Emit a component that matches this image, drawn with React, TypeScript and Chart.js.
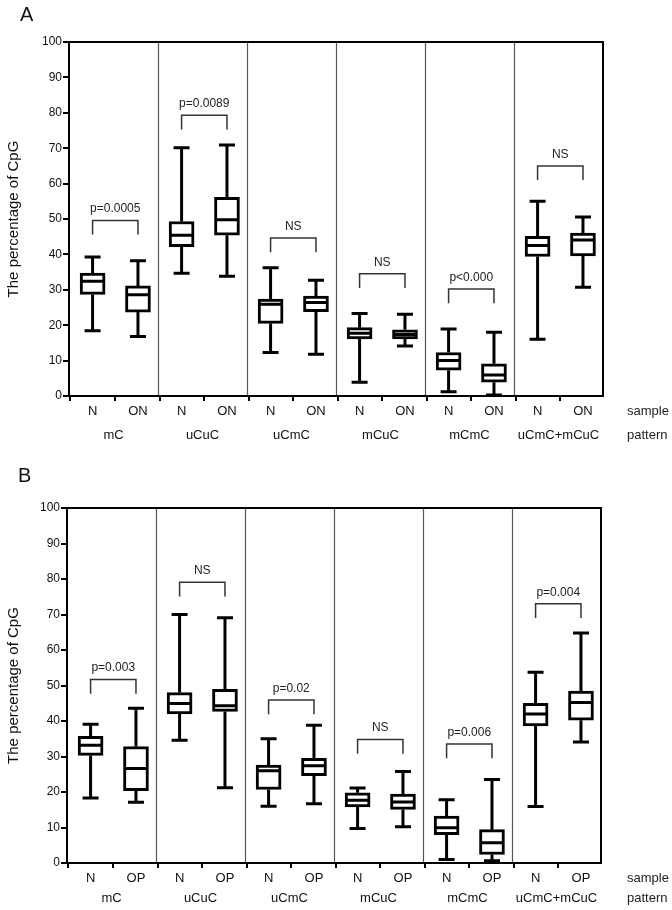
import React, { useEffect, useRef } from 'react';
import { Chart, registerables } from 'chart.js';

Chart.register(...registerables);

// ---------- data ----------
const groups = ['mC', 'uCuC', 'uCmC', 'mCuC', 'mCmC', 'uCmC+mCuC'];
const yTickValues = [0, 10, 20, 30, 40, 50, 60, 70, 80, 90, 100];

// each box: [min, q1, median, q3, max]
const aNormal = [
  [18.4, 28.7, 32.4, 34.7, 39.3],
  [34.7, 42.2, 45.4, 49.3, 70.1],
  [12.3, 20.5, 25.9, 27.4, 36.2],
  [3.9, 16.1, 17.7, 19.3, 23.3],
  [1.2, 7.3, 10.0, 12.3, 18.9],
  [16.0, 39.4, 42.5, 45.1, 55.0],
];
const aON = [
  [16.8, 23.7, 28.6, 31.1, 38.2],
  [33.8, 45.4, 49.8, 56.1, 70.9],
  [11.8, 23.8, 26.4, 28.2, 32.7],
  [14.1, 16.1, 17.4, 18.7, 23.1],
  [0.3, 3.9, 5.9, 9.1, 18.0],
  [30.7, 39.6, 44.1, 46.0, 50.6],
];
const aBracket = [49.6, 79.3, 44.6, 34.5, 30.2, 65.0];
const aPText = ['p=0.0005', 'p=0.0089', 'NS', 'NS', 'p<0.000', 'NS'];

const bNormal = [
  [18.3, 30.3, 33.2, 35.7, 39.1],
  [34.6, 42.0, 44.9, 48.0, 70.0],
  [16.0, 20.7, 26.0, 27.6, 35.0],
  [9.7, 15.8, 17.7, 19.8, 21.1],
  [1.0, 8.0, 9.9, 13.2, 17.8],
  [15.9, 38.6, 42.0, 45.0, 53.7],
];
const bOP = [
  [17.1, 20.4, 26.6, 32.8, 43.6],
  [21.2, 42.7, 44.3, 48.9, 69.1],
  [16.7, 24.6, 27.4, 29.5, 38.8],
  [10.2, 15.1, 17.2, 19.4, 25.8],
  [0.6, 2.4, 5.7, 9.4, 23.5],
  [34.1, 40.2, 45.2, 48.4, 64.8],
];
const bBracket = [51.7, 79.1, 45.9, 34.8, 33.5, 73.0];
const bPText = ['p=0.003', 'NS', 'p=0.02', 'NS', 'p=0.006', 'p=0.004'];

// ---------- styling ----------
const FONT = '"Liberation Sans", Arial, Helvetica, sans-serif';
const N_POS = 0.265;
const T_POS = 0.775;

// all vertical positions below are page coordinates
type Panel = {
  letter: string;
  sub: string;
  normal: number[][];
  tumor: number[][];
  bracket: number[];
  ptext: string[];
  canvasTop: number;
  canvasH: number;
  left: number;
  right: number;
  top: number;
  bottom: number;
  xAxisH: number;
  x2Pad: number;
  sampleY: number;
  patternY: number;
  letterX: number;
  letterY: number;
};

const panels: Panel[] = [
  {
    letter: 'A', sub: 'ON', normal: aNormal, tumor: aON, bracket: aBracket, ptext: aPText,
    canvasTop: 0, canvasH: 450, left: 69, right: 603, top: 42, bottom: 396,
    xAxisH: 22, x2Pad: 10, sampleY: 411.5, patternY: 435, letterX: 20, letterY: 21,
  },
  {
    letter: 'B', sub: 'OP', normal: bNormal, tumor: bOP, bracket: bBracket, ptext: bPText,
    canvasTop: 450, canvasH: 460, left: 67, right: 601, top: 508, bottom: 863,
    xAxisH: 22, x2Pad: 6, sampleY: 878, patternY: 898, letterX: 18, letterY: 482,
  },
];

function makePlugin(p: Panel) {
  return {
    id: 'boxExtras' + p.letter,
    beforeDatasetsDraw(chart: any) {
      const { ctx, chartArea } = chart;
      const xs = chart.scales.x;
      ctx.save();
      ctx.strokeStyle = '#555';
      ctx.lineWidth = 1.2;
      for (let i = 1; i < groups.length; i++) {
        const x = Math.round(xs.getPixelForValue(i)) + 0.5;
        ctx.beginPath();
        ctx.moveTo(x, chartArea.top);
        ctx.lineTo(x, chartArea.bottom);
        ctx.stroke();
      }
      ctx.restore();
    },
    afterDatasetsDraw(chart: any) {
      const { ctx } = chart;
      const xs = chart.scales.x;
      const ys = chart.scales.y;
      ctx.save();
      ctx.strokeStyle = '#000';
      ctx.lineWidth = 3;
      ctx.lineCap = 'butt';
      const series = [
        { boxes: p.normal, pos: N_POS },
        { boxes: p.tumor, pos: T_POS },
      ];
      series.forEach((s) => {
        s.boxes.forEach((b, i) => {
          const x = xs.getPixelForValue(i + s.pos);
          const [mn, q1, md, q3, mx] = b.map((v) => ys.getPixelForValue(v));
          ctx.beginPath();
          ctx.moveTo(x, mx);
          ctx.lineTo(x, q3);
          ctx.moveTo(x, q1);
          ctx.lineTo(x, mn);
          ctx.moveTo(x - 8, mx);
          ctx.lineTo(x + 8, mx);
          ctx.moveTo(x - 8, mn);
          ctx.lineTo(x + 8, mn);
          ctx.moveTo(x - 11, md);
          ctx.lineTo(x + 11, md);
          ctx.stroke();
        });
      });
      // significance brackets
      ctx.strokeStyle = '#333';
      ctx.lineWidth = 1.5;
      ctx.fillStyle = '#222';
      ctx.font = `12px ${FONT}`;
      ctx.textAlign = 'center';
      ctx.textBaseline = 'alphabetic';
      p.bracket.forEach((v, i) => {
        const xa = xs.getPixelForValue(i + N_POS);
        const xb = xs.getPixelForValue(i + T_POS);
        const y = ys.getPixelForValue(v);
        const yd = ys.getPixelForValue(v - 4);
        ctx.beginPath();
        ctx.moveTo(xa, yd);
        ctx.lineTo(xa, y);
        ctx.lineTo(xb, y);
        ctx.lineTo(xb, yd);
        ctx.stroke();
        ctx.fillText(p.ptext[i], (xa + xb) / 2, y - 8);
      });
      ctx.restore();
    },
    afterDraw(chart: any) {
      const { ctx, chartArea } = chart;
      ctx.save();
      ctx.strokeStyle = '#000';
      ctx.lineWidth = 2;
      ctx.strokeRect(chartArea.left, chartArea.top, chartArea.right - chartArea.left, chartArea.bottom - chartArea.top);
      ctx.fillStyle = '#222';
      ctx.font = `13px ${FONT}`;
      ctx.textAlign = 'left';
      ctx.textBaseline = 'middle';
      ctx.fillText('sample', 627, p.sampleY - p.canvasTop);
      ctx.fillText('pattern', 627, p.patternY - p.canvasTop);
      ctx.font = `20px ${FONT}`;
      ctx.textBaseline = 'alphabetic';
      ctx.fillStyle = '#111';
      ctx.fillText(p.letter, p.letterX, p.letterY - p.canvasTop);
      ctx.restore();
    },
  };
}

function buildConfig(p: Panel): any {
  const xPositions = groups.flatMap((_, i) => [i + N_POS, i + T_POS]);
  const top = p.top - p.canvasTop;
  const bottom = p.bottom - p.canvasTop;
  const x2H = p.canvasH - bottom - p.xAxisH - 2;
  const boxStyle = {
    backgroundColor: '#fff',
    borderColor: '#000',
    borderWidth: 3,
    borderSkipped: false,
    barThickness: 25,
    grouped: false,
  };
  return {
    type: 'bar',
    data: {
      datasets: [
        { label: 'N', data: p.normal.map((b, i) => ({ x: i + N_POS, y: [b[1], b[3]] })), ...boxStyle },
        { label: p.sub, data: p.tumor.map((b, i) => ({ x: i + T_POS, y: [b[1], b[3]] })), ...boxStyle },
      ],
    },
    options: {
      animation: false,
      responsive: false,
      maintainAspectRatio: false,
      layout: { padding: { left: 0, top, right: 672 - p.right, bottom: 2 } },
      plugins: { legend: { display: false }, tooltip: { enabled: false } },
      scales: {
        x: {
          type: 'linear', min: 0, max: 6, position: 'bottom', weight: 0, offset: false,
          afterBuildTicks: (s: any) => { s.ticks = xPositions.map((v) => ({ value: v })); },
          afterFit: (s: any) => { s.height = p.xAxisH; },
          ticks: {
            autoSkip: false, maxRotation: 0, minRotation: 0, padding: 3, color: '#111',
            font: { family: FONT, size: 13 },
            callback: (_v: any, i: number) => (i % 2 === 0 ? 'N' : p.sub),
          },
          grid: { drawOnChartArea: false, drawTicks: true, tickLength: 5, color: '#000', lineWidth: 2 },
          border: { display: false },
        },
        x2: {
          type: 'linear', min: 0, max: 6, position: 'bottom', weight: 1, offset: false,
          afterBuildTicks: (s: any) => { s.ticks = groups.map((_, i) => ({ value: i + 0.5 })); },
          afterFit: (s: any) => { s.height = x2H; },
          ticks: {
            autoSkip: false, maxRotation: 0, minRotation: 0, padding: p.x2Pad, color: '#111',
            font: { family: FONT, size: 13 },
            callback: (_v: any, i: number) => groups[i],
          },
          grid: { display: false, drawTicks: false, drawOnChartArea: false },
          border: { display: false },
        },
        y: {
          type: 'linear', min: 0, max: 100,
          afterBuildTicks: (s: any) => { s.ticks = yTickValues.map((v) => ({ value: v })); },
          afterFit: (s: any) => { s.width = p.left; },
          ticks: { padding: 1, color: '#111', font: { family: FONT, size: 12 } },
          grid: { drawOnChartArea: false, drawTicks: true, tickLength: 6, color: '#000', lineWidth: 2 },
          border: { display: false },
          title: {
            display: true, text: 'The percentage of CpG', color: '#111',
            font: { family: FONT, size: 15 }, padding: { top: 5, bottom: 4 },
          },
        },
      },
    },
    plugins: [makePlugin(p)],
  };
}

function PanelChart({ p }: { p: Panel }) {
  const ref = useRef<HTMLCanvasElement | null>(null);
  useEffect(() => {
    if (!ref.current) return;
    const chart = new Chart(ref.current, buildConfig(p));
    return () => chart.destroy();
  }, [p]);
  return (
    <canvas
      ref={ref}
      width={672}
      height={p.canvasH}
      style={{ position: 'absolute', left: 0, top: p.canvasTop, width: 672, height: p.canvasH }}
    />
  );
}

export default function App() {
  return (
    <div style={{ position: 'absolute', left: 0, top: 0, width: 672, height: 910, background: '#fff' }}>
      {panels.map((p) => (
        <PanelChart key={p.letter} p={p} />
      ))}
    </div>
  );
}
